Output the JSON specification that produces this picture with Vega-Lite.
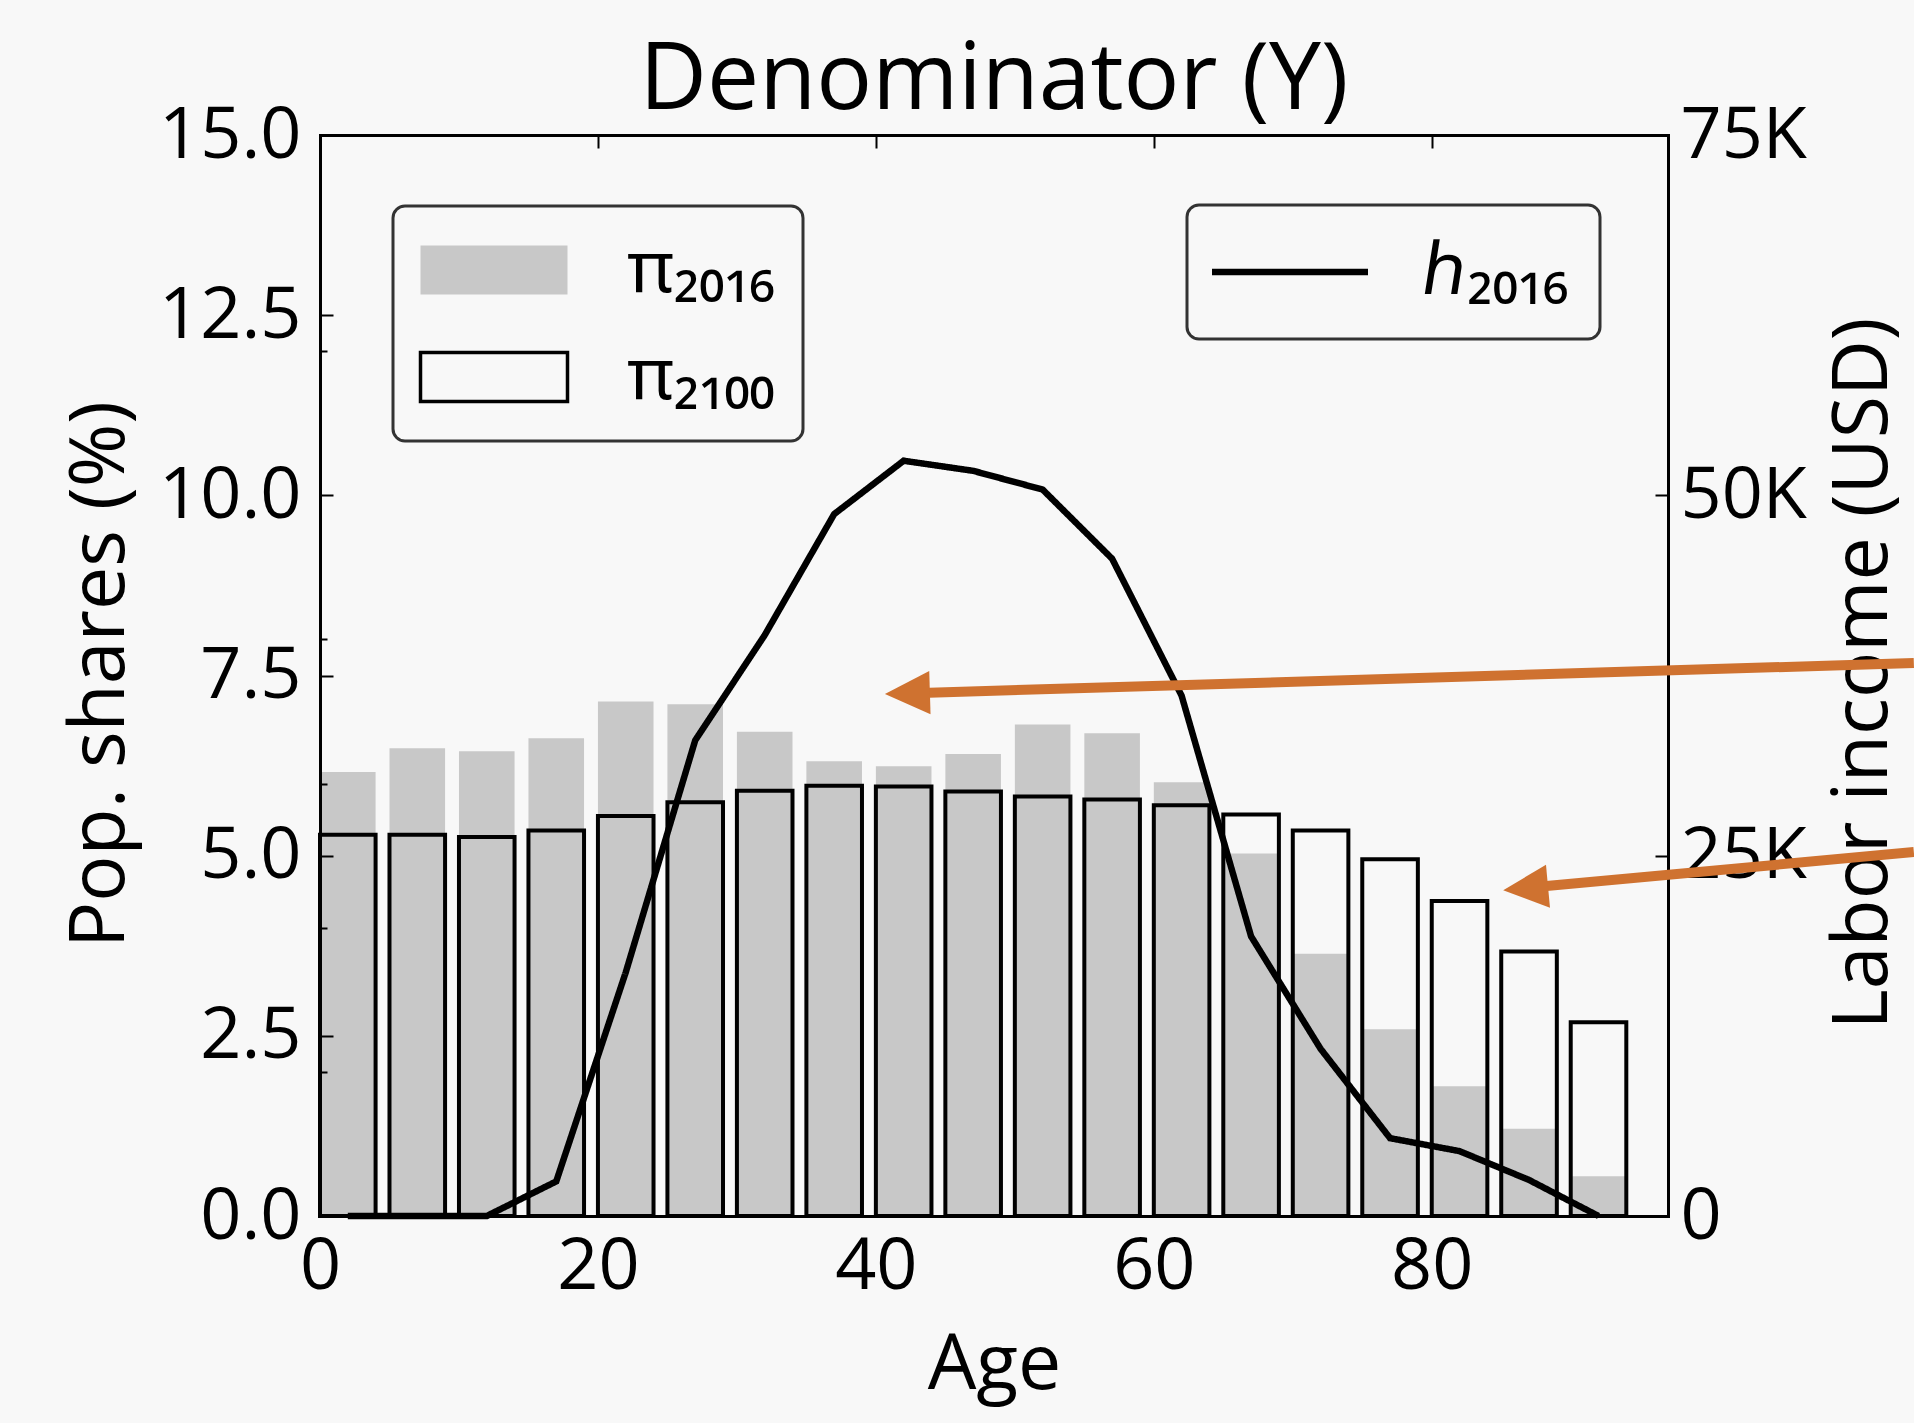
{
  "$schema": "https://vega.github.io/schema/vega-lite/v6.json",
  "width": 1348,
  "height": 1081,
  "autosize": {"type": "none"},
  "padding": {"left": 320, "top": 135, "right": 246, "bottom": 207},
  "background": "#f8f8f8",
  "config": {
    "font": "Open Sans",
    "view": {"stroke": null},
    "axis": {
      "labelColor": "black", "titleColor": "black", "tickColor": "black", "domainColor": "black",
      "grid": false, "labelFont": "Open Sans", "titleFont": "Open Sans", "titleFontWeight": "normal",
      "labelOverlap": false, "labelFlush": false, "domainWidth": 3, "tickWidth": 2, "domainCap": "square",
      "labelFontSize": 72, "titleFontSize": 77
    }
  },
  "title": {
    "text": "Denominator (Y)", "fontSize": 93, "font": "Open Sans", "fontWeight": "normal",
    "color": "black", "anchor": "middle", "frame": "group", "baseline": "alphabetic", "offset": 25, "dy": 128
  },
  "datasets": {
    "pop": [
      {"age_from": 0, "age_to": 4, "pi2016": 6.16, "pi2100": 5.29},
      {"age_from": 5, "age_to": 9, "pi2016": 6.49, "pi2100": 5.29},
      {"age_from": 10, "age_to": 14, "pi2016": 6.45, "pi2100": 5.26},
      {"age_from": 15, "age_to": 19, "pi2016": 6.63, "pi2100": 5.35},
      {"age_from": 20, "age_to": 24, "pi2016": 7.14, "pi2100": 5.55},
      {"age_from": 25, "age_to": 29, "pi2016": 7.10, "pi2100": 5.74},
      {"age_from": 30, "age_to": 34, "pi2016": 6.72, "pi2100": 5.90},
      {"age_from": 35, "age_to": 39, "pi2016": 6.31, "pi2100": 5.97},
      {"age_from": 40, "age_to": 44, "pi2016": 6.24, "pi2100": 5.96},
      {"age_from": 45, "age_to": 49, "pi2016": 6.41, "pi2100": 5.89},
      {"age_from": 50, "age_to": 54, "pi2016": 6.82, "pi2100": 5.82},
      {"age_from": 55, "age_to": 59, "pi2016": 6.70, "pi2100": 5.78},
      {"age_from": 60, "age_to": 64, "pi2016": 6.02, "pi2100": 5.70},
      {"age_from": 65, "age_to": 69, "pi2016": 5.03, "pi2100": 5.57},
      {"age_from": 70, "age_to": 74, "pi2016": 3.64, "pi2100": 5.35},
      {"age_from": 75, "age_to": 79, "pi2016": 2.59, "pi2100": 4.95},
      {"age_from": 80, "age_to": 84, "pi2016": 1.80, "pi2100": 4.37},
      {"age_from": 85, "age_to": 89, "pi2016": 1.21, "pi2100": 3.67},
      {"age_from": 90, "age_to": 94, "pi2016": 0.55, "pi2100": 2.69}
    ],
    "income": [
      {"age": 2, "h2016": 0},
      {"age": 7, "h2016": 0},
      {"age": 12, "h2016": 0},
      {"age": 17, "h2016": 2400},
      {"age": 22, "h2016": 16900},
      {"age": 27, "h2016": 33000},
      {"age": 32, "h2016": 40300},
      {"age": 37, "h2016": 48700},
      {"age": 42, "h2016": 52400},
      {"age": 47, "h2016": 51700},
      {"age": 52, "h2016": 50400},
      {"age": 57, "h2016": 45600},
      {"age": 62, "h2016": 36100},
      {"age": 67, "h2016": 19400},
      {"age": 72, "h2016": 11600},
      {"age": 77, "h2016": 5400},
      {"age": 82, "h2016": 4500},
      {"age": 87, "h2016": 2500},
      {"age": 92, "h2016": 0}
    ],
    "arrows": [
      {"target": "pi2016", "age_tail": 114.69, "share_tail": 7.673, "age_neck": 42.1, "share_neck": 7.251, "age_tip": 40.65, "share_tip": 7.243},
      {"target": "pi2100", "age_tail": 114.69, "share_tail": 5.051, "age_neck": 86.7, "share_neck": 4.55, "age_tip": 85.14, "share_tip": 4.519}
    ]
  },
  "resolve": {"scale": {"y": "independent"}, "axis": {"x": "independent", "y": "independent"}},
  "layer": [
    {
      "data": {"name": "pop"},
      "mark": {"type": "bar", "color": "#c8c8c8", "strokeWidth": 0},
      "encoding": {
        "x": {"field": "age_from", "type": "quantitative", "scale": {"domain": [0, 97], "nice": false, "zero": false},
          "axis": {"orient": "bottom", "values": [0, 20, 40, 60, 80], "ticks": false, "labelPadding": 15,
            "title": "Age", "titleX": 674, "titleY": 172, "titleBaseline": "alphabetic", "titleAlign": "center", "titleAngle": 0, "zindex": 1}},
        "x2": {"field": "age_to"},
        "y": {"field": "pi2016", "type": "quantitative", "scale": {"domain": [0, 15], "nice": false},
          "axis": {"orient": "left", "values": [0, 2.5, 5, 7.5, 10, 12.5, 15], "format": ".1f",
            "tickSize": -13, "labelPadding": 32, "title": "Pop. shares (%)",
            "titleX": -197, "titleY": 539, "titleAngle": -90, "titleBaseline": "alphabetic", "titleAlign": "center", "zindex": 1}},
        "y2": {"datum": 0},
        "fill": {"datum": "π₂₀₁₆", "type": "nominal",
          "scale": {"domain": ["π₂₀₁₆", "π₂₁₀₀"], "range": ["#c8c8c8", "transparent"]},
          "legend": {
            "orient": "none", "legendX": 73, "legendY": 71, "direction": "vertical", "title": null,
            "symbolType": "M-3,-1H3V1H-3Z", "symbolSize": 2401, "symbolOffset": 37, "symbolStrokeWidth": 3.5,
            "labelOffset": 97, "labelFont": "Noto Sans", "labelFontSize": 72, "labelColor": "black",
            "rowPadding": 35, "padding": 28, "strokeColor": "#333333", "fillColor": "#f8f8f8", "cornerRadius": 12,
            "encode": {
              "legend": {"update": {"strokeWidth": {"value": 3}}},
              "symbols": {"update": {
                "stroke": {"signal": "datum.value === 'π₂₁₀₀' ? 'black' : 'transparent'"},
                "strokeWidth": {"value": 3.5}, "opacity": {"value": 1}}}
            }
          }
        }
      }
    },
    {
      "data": {"name": "pop"},
      "mark": {"type": "bar", "stroke": "black", "strokeWidth": 4},
      "encoding": {
        "x": {"field": "age_from", "type": "quantitative", "scale": {"domain": [0, 97], "nice": false, "zero": false},
          "axis": {"orient": "top", "values": [20, 40, 60, 80], "tickSize": -13, "labels": false, "title": null, "zindex": 1}},
        "x2": {"field": "age_to"},
        "y": {"field": "pi2100", "type": "quantitative", "scale": {"domain": [0, 15], "nice": false},
          "axis": {"orient": "left", "values": [2, 4, 6, 8, 12], "tickSize": -7, "labels": false, "domain": false, "title": null, "zindex": 1}},
        "y2": {"datum": 0},
        "fill": {"datum": "π₂₁₀₀", "type": "nominal",
          "scale": {"domain": ["π₂₀₁₆", "π₂₁₀₀"], "range": ["#c8c8c8", "transparent"]}}
      }
    },
    {
      "data": {"name": "income"},
      "mark": {"type": "line", "color": "black", "strokeWidth": 6.5},
      "encoding": {
        "x": {"field": "age", "type": "quantitative", "scale": {"domain": [0, 97], "nice": false, "zero": false}, "axis": null},
        "y": {"field": "h2016", "type": "quantitative", "scale": {"domain": [0, 75000], "nice": false},
          "axis": {"orient": "right", "values": [0, 25000, 50000, 75000],
            "labelExpr": "datum.value == 0 ? '0' : format(datum.value / 1000, 'd') + 'K'",
            "tickSize": -13, "labelPadding": 25, "title": "Labor income (USD)",
            "titleX": 218, "titleY": 538, "titleAngle": -90, "titleBaseline": "alphabetic", "titleAlign": "center", "zindex": 0}},
        "strokeDash": {"datum": "ℎ₂₀₁₆", "type": "nominal",
          "scale": {"domain": ["ℎ₂₀₁₆"], "range": [[1, 0]]},
          "legend": {
            "orient": "none", "legendX": 867, "legendY": 70, "direction": "vertical", "title": null,
            "symbolType": "M-3,0H3", "symbolSize": 2704, "symbolOffset": 36, "symbolStrokeColor": "black",
            "symbolStrokeWidth": 6.5, "symbolFillColor": "transparent",
            "labelOffset": 97, "labelFont": "Noto Sans", "labelFontSize": 72, "labelColor": "black",
            "padding": 31, "strokeColor": "#333333", "fillColor": "#f8f8f8", "cornerRadius": 12,
            "encode": {"legend": {"update": {"strokeWidth": {"value": 3}}}}
          }
        }
      }
    },
    {
      "data": {"name": "arrows"},
      "mark": {"type": "rule", "color": "#cf7230", "strokeWidth": 10, "strokeCap": "butt"},
      "encoding": {
        "x": {"field": "age_tail", "type": "quantitative", "scale": {"domain": [0, 97], "nice": false, "zero": false}, "axis": null},
        "x2": {"field": "age_neck"},
        "y": {"field": "share_tail", "type": "quantitative", "scale": {"domain": [0, 15], "nice": false}, "axis": null},
        "y2": {"field": "share_neck"}
      }
    },
    {
      "data": {"name": "arrows"},
      "transform": [{"filter": "datum.target === 'pi2016'"}],
      "mark": {"type": "point", "shape": "M0,0L2,-0.96L2,0.96Z", "size": 2025, "filled": true, "color": "#cf7230", "opacity": 1, "strokeWidth": 0, "angle": -1.73},
      "encoding": {
        "x": {"field": "age_tip", "type": "quantitative", "scale": {"domain": [0, 97], "nice": false, "zero": false}, "axis": null},
        "y": {"field": "share_tip", "type": "quantitative", "scale": {"domain": [0, 15], "nice": false}, "axis": null}
      }
    },
    {
      "data": {"name": "arrows"},
      "transform": [{"filter": "datum.target === 'pi2100'"}],
      "mark": {"type": "point", "shape": "M0,0L2,-0.96L2,0.96Z", "size": 2025, "filled": true, "color": "#cf7230", "opacity": 1, "strokeWidth": 0, "angle": -5.33},
      "encoding": {
        "x": {"field": "age_tip", "type": "quantitative", "scale": {"domain": [0, 97], "nice": false, "zero": false}, "axis": null},
        "y": {"field": "share_tip", "type": "quantitative", "scale": {"domain": [0, 15], "nice": false}, "axis": null}
      }
    }
  ]
}
